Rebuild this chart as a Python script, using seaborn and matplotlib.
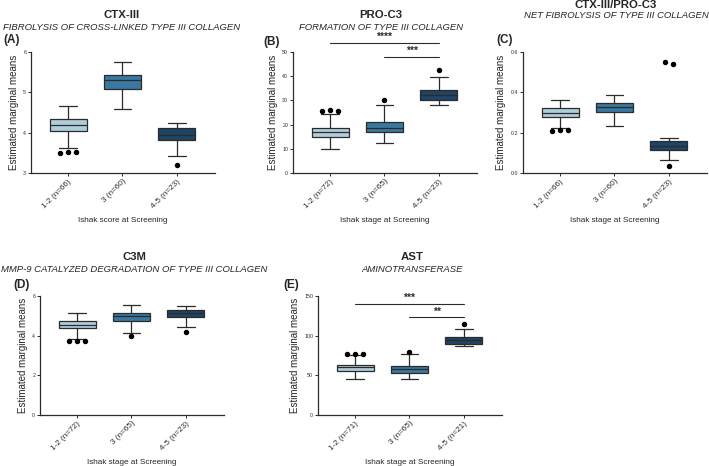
import matplotlib.pyplot as plt
import seaborn as sns

sns.set_theme(style="ticks")
plt.rcParams["font.family"] = ["Liberation Sans", "DejaVu Sans"]

# summary statistics: whislo, q1, median, q3, whishi
groups_a = ["1-2 (n=66)", "3 (n=60)", "4-5 (n=23)"]
stats_a = [[3.62, 4.05, 4.18, 4.35, 4.66], [4.59, 5.09, 5.30, 5.42, 5.74], [3.42, 3.81, 3.94, 4.11, 4.25]]
fliers_a = [[3.50, 3.53, 3.53], [], [3.20]]

groups_b = ["1-2 (n=72)", "3 (n=65)", "4-5 (n=23)"]
stats_b = [[10.1, 14.7, 16.9, 18.6, 24.4], [12.5, 16.8, 18.8, 21.1, 28.3], [28.1, 30.1, 32.3, 34.2, 39.6]]
fliers_b = [[25.8, 26.0, 25.8], [30.0], [42.5]]
signif_b = [(0, 2, 53.7, "****"), (1, 2, 48.1, "***")]

groups_c = ["1-2 (n=66)", "3 (n=60)", "4-5 (n=23)"]
stats_c = [[0.222, 0.280, 0.300, 0.320, 0.362], [0.235, 0.303, 0.327, 0.345, 0.387], [0.062, 0.112, 0.135, 0.157, 0.172]]
fliers_c = [[0.208, 0.212, 0.212], [], [0.550, 0.542, 0.035]]

groups_d = ["1-2 (n=72)", "3 (n=65)", "4-5 (n=23)"]
stats_d = [[3.84, 4.39, 4.56, 4.75, 5.15], [4.11, 4.76, 4.98, 5.15, 5.53], [4.44, 4.93, 5.15, 5.31, 5.48]]
fliers_d = [[3.72, 3.74, 3.74], [3.98], [4.17]]

groups_e = ["1-2 (n=71)", "3 (n=65)", "4-5 (n=21)"]
stats_e = [[46.0, 55.1, 60.2, 62.7, 76.0], [45.1, 53.5, 58.5, 62.2, 76.5], [86.5, 89.4, 94.0, 97.8, 107.8]]
fliers_e = [[76.5, 77.3, 77.3], [79.4], [115.3]]
signif_e = [(0, 2, 139.6, "***"), (1, 2, 122.9, "**")]

COLORS = ["#afcddb", "#3b78a1", "#1e4566"]
EDGE = "#2b2b2b"
W, H = 709, 466


def fig_rect(left, top, width, height):
    return [left / W, 1 - (top + height) / H, width / W, height / H]


def spread(values, span):
    # Prism-style: put near-equal outliers side by side
    offsets = [0.0] * len(values)
    clusters = []
    for i, v in enumerate(values):
        for c in clusters:
            if abs(values[c[0]] - v) < 0.03 * span:
                c.append(i)
                break
        else:
            clusters.append([i])
    for c in clusters:
        n = len(c)
        for k, i in enumerate(c):
            offsets[i] = (k - (n - 1) / 2) * 0.14
    return offsets


def panel(ax, groups, stats, fliers, ylim, yticks, fmt, xlabel, signif=()):
    bxp_stats = []
    for g, s in zip(groups, stats):
        lo, q1, med, q3, hi = s
        bxp_stats.append(dict(label=g, whislo=lo, q1=q1, med=med, q3=q3, whishi=hi, fliers=[]))
    line = dict(color=EDGE, linewidth=0.9)
    parts = ax.bxp(bxp_stats, positions=range(len(groups)), widths=0.68, capwidths=0.32,
                   patch_artist=True, showfliers=False,
                   boxprops=dict(edgecolor=EDGE, linewidth=0.9),
                   medianprops=dict(color=EDGE, linewidth=0.9),
                   whiskerprops=line, capprops=line)
    for patch, col in zip(parts["boxes"], COLORS):
        patch.set_facecolor(col)
    span = ylim[1] - ylim[0]
    for i, vals in enumerate(fliers):
        for off, v in zip(spread(vals, span), vals):
            ax.plot(i + off, v, "o", color="black", markersize=2.9, zorder=5)
    for a, b, y, label in signif:
        ax.plot([a, b], [y, y], color=EDGE, linewidth=0.8, clip_on=False)
        ax.text((a + b) / 2, y + 0.008 * span, label, ha="center", va="bottom",
                fontsize=7.5, fontweight="bold", color=EDGE)
    ax.set_xlim(-0.68, 2.7)
    ax.set_ylim(*ylim)
    ax.set_yticks(yticks)
    ax.set_yticklabels([fmt.format(t) for t in yticks], fontsize=3.8)
    ax.set_xticks(range(len(groups)))
    ax.set_xticklabels(groups, rotation=45, ha="right", rotation_mode="anchor", fontsize=5.9)
    ax.set_xlabel(xlabel, fontsize=5.9, labelpad=5.5)
    ax.set_ylabel("Estimated marginal means", fontsize=7, labelpad=3)
    ax.tick_params(axis="both", length=2, width=0.7, pad=1.5, colors=EDGE)
    for s in ("left", "bottom"):
        ax.spines[s].set_linewidth(0.9)
        ax.spines[s].set_color(EDGE)
    sns.despine(ax=ax)


def heading(x, y, title, subtitle, tag, tx, ty, gap=12):
    fig.text(x / W, 1 - y / H, title, ha="center", va="center", fontsize=8.2, fontweight="bold")
    fig.text(x / W, 1 - (y + gap) / H, subtitle, ha="center", va="center", fontsize=6.8, style="italic")
    fig.text(tx / W, 1 - ty / H, tag, ha="left", va="center", fontsize=8.5, fontweight="bold")


fig = plt.figure(figsize=(7.09, 4.66), dpi=100)

ax_a = fig.add_axes(fig_rect(31, 52, 184, 121))
panel(ax_a, groups_a, stats_a, fliers_a, (3, 6), [3, 4, 5, 6], "{:g}", "Ishak score at Screening")
heading(122, 15, "CTX-III", "FIBROLYSIS OF CROSS-LINKED TYPE III COLLAGEN", "(A)", 3, 40)

ax_b = fig.add_axes(fig_rect(293, 52, 184, 121))
panel(ax_b, groups_b, stats_b, fliers_b, (0, 50), [0, 10, 20, 30, 40, 50], "{:g}",
      "Ishak stage at Screening", signif_b)
heading(381, 15, "PRO-C3", "FORMATION OF TYPE III COLLAGEN", "(B)", 263, 42, gap=13)

ax_c = fig.add_axes(fig_rect(523, 52, 184, 121))
panel(ax_c, groups_c, stats_c, fliers_c, (0, 0.6), [0.0, 0.2, 0.4, 0.6], "{:.1f}", "Ishak stage at Screening")
heading(616, 5, "CTX-III/PRO-C3", "NET FIBROLYSIS OF TYPE III COLLAGEN", "(C)", 496, 40, gap=11)

ax_d = fig.add_axes(fig_rect(40, 296, 184, 119))
panel(ax_d, groups_d, stats_d, fliers_d, (0, 6), [0, 2, 4, 6], "{:g}", "Ishak stage at Screening")
heading(134, 257, "C3M", "MMP-9 CATALYZED DEGRADATION OF TYPE III COLLAGEN", "(D)", 13, 285, gap=13)

ax_e = fig.add_axes(fig_rect(318, 296, 184, 119))
panel(ax_e, groups_e, stats_e, fliers_e, (0, 150), [0, 50, 100, 150], "{:g}",
      "Ishak stage at Screening", signif_e)
heading(412, 257, "AST", "AMINOTRANSFERASE", "(E)", 283, 285, gap=13)

fig.savefig("out.png", dpi=100)
plt.close(fig)
